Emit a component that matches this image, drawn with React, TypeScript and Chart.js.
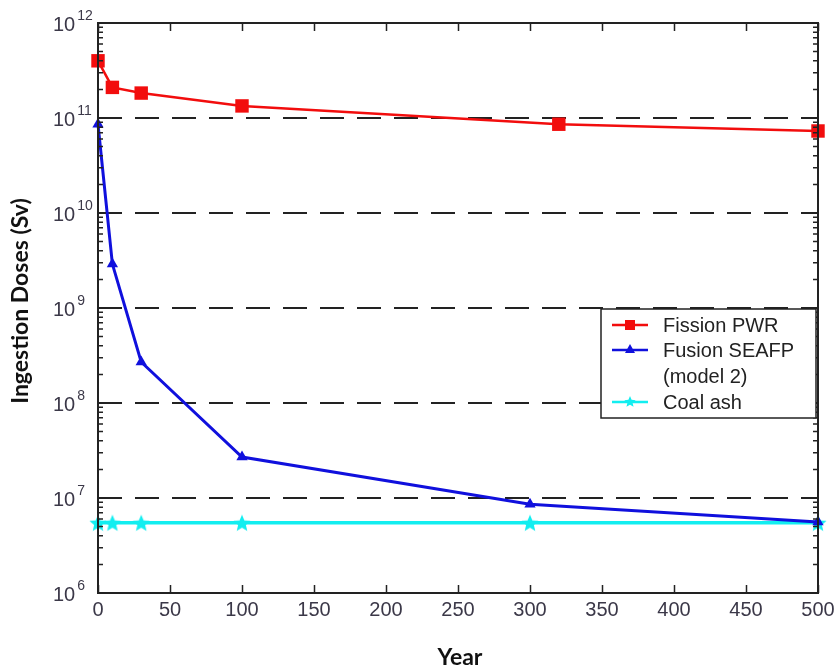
import { useEffect, useRef } from 'react';
import { Chart, registerables } from 'chart.js';

Chart.register(...registerables);

// Ingestion dose versus time after shutdown
const YEARS_FISSION = [0, 10, 30, 100, 320, 500];
const DOSE_FISSION = [4.0e11, 2.1e11, 1.83e11, 1.34e11, 8.6e10, 7.3e10];

const YEARS_FUSION = [0, 10, 30, 100, 300, 500];
const DOSE_FUSION = [8.6e10, 2.9e9, 2.7e8, 2.7e7, 8.6e6, 5.6e6];

const YEARS_COAL = [0, 10, 30, 100, 300, 500];
const DOSE_COAL = [5.5e6, 5.5e6, 5.5e6, 5.5e6, 5.5e6, 5.5e6];

const X_TICKS = [0, 50, 100, 150, 200, 250, 300, 350, 400, 450, 500];
const Y_EXPONENTS = [6, 7, 8, 9, 10, 11, 12];
const DASHED_EXPONENTS = [7, 8, 9, 10, 11];

const LEGEND_LABELS = ['Fission PWR', 'Fusion SEAFP', '(model 2)', 'Coal ash'];

const RED = '#f20d0d';
const BLUE = '#1010dd';
const CYAN = '#12eef0';
const INK = '#222';
const TEXT = '#3b3848';
const TICK_FONT = '20px "Liberation Sans", Arial, sans-serif';
const SUP_FONT = '14px "Liberation Sans", Arial, sans-serif';

function makeStar(size: number, color: string): HTMLCanvasElement {
  const c = document.createElement('canvas');
  c.width = size;
  c.height = size;
  const g = c.getContext('2d')!;
  const cx = size / 2;
  const cy = size / 2 + 1;
  const R = size / 2;
  const r = R * 0.45;
  g.beginPath();
  for (let i = 0; i < 10; i++) {
    const rad = i % 2 === 0 ? R : r;
    const a = -Math.PI / 2 + (i * Math.PI) / 5;
    const px = cx + rad * Math.cos(a);
    const py = cy + rad * Math.sin(a);
    if (i === 0) g.moveTo(px, py);
    else g.lineTo(px, py);
  }
  g.closePath();
  g.fillStyle = color;
  g.fill();
  return c;
}

function toPoints(xs: number[], ys: number[]) {
  return xs.map((x, i) => ({ x, y: ys[i] }));
}

const axesPlugin = {
  id: 'matlabAxes',
  beforeDatasetsDraw(chart: any) {
    const { ctx, chartArea } = chart;
    const { left, right } = chartArea;
    const ys = chart.scales.y;
    ctx.save();
    // dashed decade lines
    ctx.strokeStyle = INK;
    ctx.lineWidth = 2;
    ctx.setLineDash([24, 13]);
    for (const e of DASHED_EXPONENTS) {
      const py = Math.round(ys.getPixelForValue(Math.pow(10, e)));
      ctx.beginPath();
      ctx.moveTo(left, py);
      ctx.lineTo(right, py);
      ctx.stroke();
    }
    ctx.setLineDash([]);
    ctx.restore();
  },
  afterDatasetsDraw(chart: any) {
    const { ctx, chartArea } = chart;
    const { left, right, top, bottom } = chartArea;
    const xs = chart.scales.x;
    const ys = chart.scales.y;
    ctx.save();
    ctx.strokeStyle = INK;
    ctx.lineWidth = 2;
    ctx.strokeRect(left, top, right - left, bottom - top);

    // x ticks (top and bottom, inward)
    ctx.lineWidth = 1.5;
    for (const v of X_TICKS) {
      const px = Math.round(xs.getPixelForValue(v)) + 0.5;
      ctx.beginPath();
      ctx.moveTo(px, bottom);
      ctx.lineTo(px, bottom - 8);
      ctx.moveTo(px, top);
      ctx.lineTo(px, top + 8);
      ctx.stroke();
    }
    // y ticks, major and minor
    for (const e of Y_EXPONENTS) {
      const py = ys.getPixelForValue(Math.pow(10, e));
      ctx.beginPath();
      ctx.moveTo(left, py);
      ctx.lineTo(left + 8, py);
      ctx.moveTo(right, py);
      ctx.lineTo(right - 8, py);
      ctx.stroke();
      if (e < 12) {
        for (let m = 2; m <= 9; m++) {
          const pm = ys.getPixelForValue(m * Math.pow(10, e));
          ctx.beginPath();
          ctx.moveTo(left, pm);
          ctx.lineTo(left + 5, pm);
          ctx.moveTo(right, pm);
          ctx.lineTo(right - 5, pm);
          ctx.stroke();
        }
      }
    }

    // x tick labels
    ctx.fillStyle = TEXT;
    ctx.font = TICK_FONT;
    ctx.textAlign = 'center';
    ctx.textBaseline = 'middle';
    for (const v of X_TICKS) {
      ctx.fillText(String(v), xs.getPixelForValue(v), bottom + 17);
    }

    // y tick labels 10^n
    for (const e of Y_EXPONENTS) {
      const py = ys.getPixelForValue(Math.pow(10, e));
      ctx.font = TICK_FONT;
      ctx.textAlign = 'left';
      ctx.textBaseline = 'middle';
      const baseX = left - 45;
      ctx.fillText('10', baseX, py + 2);
      const w = ctx.measureText('10').width;
      ctx.font = SUP_FONT;
      ctx.textBaseline = 'alphabetic';
      ctx.fillText(String(e), baseX + w + 2, py - 3);
    }

    // axis titles
    ctx.fillStyle = '#111';
    ctx.font = 'bold 23px Lato, "Open Sans", sans-serif';
    ctx.textAlign = 'center';
    ctx.textBaseline = 'middle';
    ctx.fillText('Year', 460, 658);
    ctx.save();
    ctx.translate(21, 301);
    ctx.rotate(-Math.PI / 2);
    ctx.fillText('Ingestion Doses (Sv)', 0, 0);
    ctx.restore();

    // legend
    const bx = 601;
    const by = 309;
    const bw = 816 - bx;
    const bh = 418 - by;
    ctx.fillStyle = '#fff';
    ctx.fillRect(bx, by, bw, bh);
    ctx.strokeStyle = INK;
    ctx.lineWidth = 1.5;
    ctx.strokeRect(bx, by, bw, bh);

    const rows = [325, 350, 376, 402];
    const lx0 = 612;
    const lx1 = 648;
    const mx = 630;
    // red
    ctx.strokeStyle = RED;
    ctx.lineWidth = 2.5;
    ctx.beginPath();
    ctx.moveTo(lx0, rows[0]);
    ctx.lineTo(lx1, rows[0]);
    ctx.stroke();
    ctx.fillStyle = RED;
    ctx.fillRect(mx - 5, rows[0] - 5, 10, 10);
    // blue
    ctx.strokeStyle = BLUE;
    ctx.beginPath();
    ctx.moveTo(lx0, rows[1]);
    ctx.lineTo(lx1, rows[1]);
    ctx.stroke();
    ctx.fillStyle = BLUE;
    ctx.beginPath();
    ctx.moveTo(mx, rows[1] - 6);
    ctx.lineTo(mx + 5, rows[1] + 3);
    ctx.lineTo(mx - 5, rows[1] + 3);
    ctx.closePath();
    ctx.fill();
    // cyan
    ctx.strokeStyle = CYAN;
    ctx.beginPath();
    ctx.moveTo(lx0, rows[3]);
    ctx.lineTo(lx1, rows[3]);
    ctx.stroke();
    ctx.drawImage(makeStar(12, CYAN), mx - 6, rows[3] - 7);

    ctx.fillStyle = '#222';
    ctx.font = TICK_FONT;
    ctx.textAlign = 'left';
    ctx.textBaseline = 'middle';
    LEGEND_LABELS.forEach((t, i) => ctx.fillText(t, 663, rows[i] + 1));
    ctx.restore();
  },
};

export default function App() {
  const ref = useRef<HTMLCanvasElement | null>(null);

  useEffect(() => {
    if (!ref.current) return;
    const star = makeStar(18, CYAN);
    const chart = new Chart(ref.current, {
      type: 'line',
      data: {
        datasets: [
          {
            label: 'Fission PWR',
            data: toPoints(YEARS_FISSION, DOSE_FISSION),
            borderColor: RED,
            backgroundColor: RED,
            borderWidth: 2.5,
            pointStyle: 'rect',
            pointRadius: 9.5,
            pointBorderWidth: 0,
            clip: false,
          },
          {
            label: 'Fusion SEAFP (model 2)',
            data: toPoints(YEARS_FUSION, DOSE_FUSION),
            borderColor: BLUE,
            backgroundColor: BLUE,
            borderWidth: 3,
            pointStyle: 'triangle',
            pointRadius: 6.5,
            pointBorderWidth: 0,
            clip: false,
          },
          {
            label: 'Coal ash',
            data: toPoints(YEARS_COAL, DOSE_COAL),
            borderColor: CYAN,
            backgroundColor: CYAN,
            borderWidth: 3.5,
            pointStyle: star as any,
            pointRadius: 9,
            clip: false,
          },
        ],
      },
      options: {
        animation: false,
        responsive: false,
        devicePixelRatio: 1,
        layout: { padding: { left: 98, right: 21, top: 23, bottom: 78 } },
        plugins: { legend: { display: false }, tooltip: { enabled: false } },
        scales: {
          x: { type: 'linear', min: 0, max: 500, display: false },
          y: { type: 'logarithmic', min: 1e6, max: 1e12, display: false },
        },
      },
      plugins: [axesPlugin],
    });
    return () => chart.destroy();
  }, []);

  return (
    <div style={{ position: 'absolute', left: 0, top: 0, width: 839, height: 671, background: '#fff' }}>
      <canvas ref={ref} width={839} height={671} style={{ display: 'block' }} />
    </div>
  );
}
